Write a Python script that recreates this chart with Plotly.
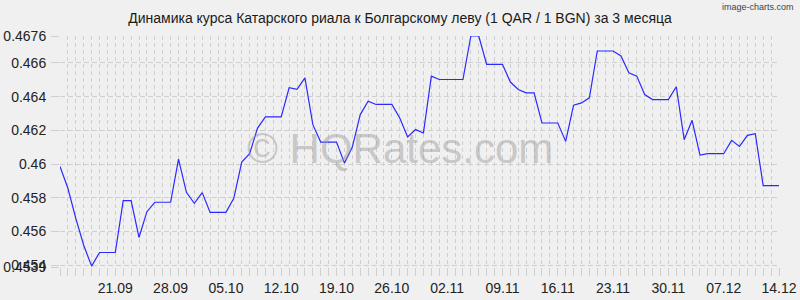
import datetime as dt
import plotly.graph_objects as go

# ---- data ----
start_date = "2020-09-14"
rates = [
    0.45986, 0.45857, 0.45678, 0.45519, 0.45395, 0.45476, 0.45476, 0.45476,
    0.45784, 0.45784, 0.45565, 0.45718, 0.45774, 0.45774, 0.45774, 0.46030,
    0.45833, 0.45768, 0.45831, 0.45714, 0.45714, 0.45714, 0.45797, 0.46012,
    0.46062, 0.46214, 0.46280, 0.46280, 0.46280, 0.46453, 0.46443, 0.46512,
    0.46234, 0.46131, 0.46131, 0.46131, 0.46006, 0.46101, 0.46294, 0.46373,
    0.46354, 0.46354, 0.46354, 0.46274, 0.46161, 0.46205, 0.46185, 0.46522,
    0.46502, 0.46502, 0.46502, 0.46502, 0.46760, 0.46760, 0.46592, 0.46592,
    0.46592, 0.46487, 0.46443, 0.46423, 0.46423, 0.46244, 0.46244, 0.46244,
    0.46135, 0.46350, 0.46363, 0.46393, 0.46671, 0.46671, 0.46671, 0.46642,
    0.46542, 0.46522, 0.46413, 0.46383, 0.46383, 0.46383, 0.46459, 0.46145,
    0.46260, 0.46054, 0.46062, 0.46062, 0.46062, 0.46141, 0.46105, 0.46171,
    0.46181, 0.45873, 0.45873, 0.45873,
]
x_tick_dates = ["2020-09-21", "2020-09-28", "2020-10-05", "2020-10-12", "2020-10-19",
                "2020-10-26", "2020-11-02", "2020-11-09", "2020-11-16", "2020-11-23",
                "2020-11-30", "2020-12-07", "2020-12-14"]
y_tick_vals = [0.4539, 0.454, 0.456, 0.458, 0.46, 0.462, 0.464, 0.466, 0.4676]
y_tick_text = ["0.4539", "0.454", "0.456", "0.458", "0.46", "0.462", "0.464", "0.466", "0.4676"]
title_text = "Динамика курса Катарского риала к Болгарскому леву (1 QAR / 1 BGN) за 3 месяца"
watermark = "© HQRates.com"
credit = "image-charts.com"

d0 = dt.date.fromisoformat(start_date)
dates = [(d0 + dt.timedelta(days=i)).isoformat() for i in range(len(rates))]

BG = "#f0f0f0"
GRID = "#cfcfcf"
FONT = "Liberation Sans, Arial, sans-serif"

fig = go.Figure()
fig.add_trace(go.Scatter(
    x=dates, y=rates, mode="lines",
    line=dict(color="#2a2aff", width=1.2),
    hoverinfo="x+y", showlegend=False,
))

fig.update_layout(
    width=800, height=300,
    paper_bgcolor=BG, plot_bgcolor=BG,
    margin=dict(l=60, r=21, t=36, b=33),
    font=dict(family=FONT, size=14, color="#222222"),
    title=dict(text=title_text, x=0.5, xanchor="center", y=1 - 18 / 300,
               yanchor="middle", font=dict(family=FONT, size=14, color="#1a1a1a")),
)

fig.update_xaxes(
    type="date",
    range=[dates[0], dates[-1]],
    tickvals=x_tick_dates,
    tickformat="%d.%m",
    ticks="outside", ticklen=8, tickcolor=GRID,
    showgrid=True, gridcolor=GRID, griddash="4px,3px", gridwidth=1,
    minor=dict(dtick=86400000, tick0=dates[0], showgrid=True, gridcolor=GRID,
               griddash="4px,3px", ticks="outside", ticklen=8, tickcolor=GRID),
    showline=False, zeroline=False, automargin=False,
    tickfont=dict(size=14, color="#222222"),
)
fig.update_yaxes(
    range=[0.4539, 0.4676],
    tickvals=y_tick_vals, ticktext=y_tick_text,
    ticks="outside", ticklen=8, tickcolor=GRID,
    ticklabelstandoff=2,
    showgrid=True, gridcolor=GRID, griddash="5px,3px", gridwidth=1,
    showline=False, zeroline=False, automargin=False,
    tickfont=dict(size=14, color="#222222"),
)

fig.add_annotation(
    text=watermark, xref="paper", yref="paper",
    x=(400 - 60) / 719, y=(267 - 148) / 231, xanchor="center", yanchor="middle",
    showarrow=False, font=dict(family=FONT, size=42, color="rgba(150,150,150,0.45)"),
)
fig.add_annotation(
    text=credit, xref="paper", yref="paper",
    x=(796 - 60) / 719, y=(267 - 7) / 231, xanchor="right", yanchor="middle",
    showarrow=False, font=dict(family=FONT, size=9, color="#444444"),
)

fig.write_html("out.html")
